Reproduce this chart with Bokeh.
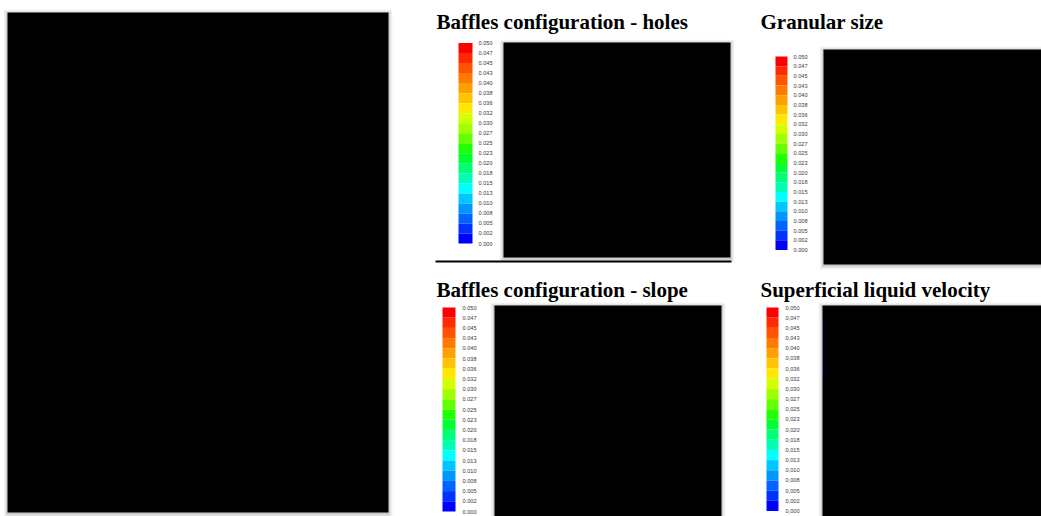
from bokeh.plotting import figure
from bokeh.models import Range1d, ColumnDataSource
from bokeh.core.properties import value
from bokeh.embed import file_html
from bokeh.resources import INLINE

# ---- data ----
panel_titles = ["Baffles configuration - holes", "Granular size",
                "Baffles configuration - slope", "Superficial liquid velocity"]
scale_labels = ["0.050", "0.047", "0.045", "0.043", "0.040", "0.038", "0.036",
                "0.032", "0.030", "0.027", "0.025", "0.023", "0.020", "0.018",
                "0.015", "0.013", "0.010", "0.008", "0.005", "0.002", "0.000"]
scale_labels_comma = [s.replace(".", ",") for s in scale_labels]
band_colors = ["#ff0000", "#ff2a00", "#ff5500", "#ff7a00", "#ffa000", "#ffc400",
               "#ffe800", "#d4ff00", "#a0ff00", "#66ff00", "#22ff00", "#00ff33",
               "#00ff77", "#00ffb4", "#00ffff", "#00c8ff", "#0096ff", "#0064ff",
               "#0032ff", "#0000ff"]

# ---- layout (pixel positions) ----
W, H = 1041, 516
title_pos = [(436, 21), (760, 21), (436, 289), (760, 289)]
bars = [(458, 472, 42.5, 243.0), (775, 787, 56.0, 249.5),
        (442, 455, 307.0, 511.0), (766, 778, 307.0, 510.5)]
label_x = [478, 793, 462, 785]
images = [(7, 388, 12, 512), (503, 730, 42, 257), (823, 1041, 49, 264),
          (494, 721, 305, 530), (822, 1041, 305, 530)]

p = figure(width=W, height=H, x_range=Range1d(0, W), y_range=Range1d(H, 0),
           output_backend="svg", toolbar_location=None, min_border=0,
           background_fill_color="white", border_fill_color="white")
p.axis.visible = False
p.grid.visible = False
p.outline_line_color = None

# shadows behind the images
for k, a in [(4, 0.035), (3, 0.045), (2, 0.06), (1, 0.08)]:
    p.quad(left=[im[0] - k for im in images], right=[im[1] + k for im in images],
           top=[im[2] - k + 1 for im in images], bottom=[im[3] + k + 1 for im in images],
           fill_color="black", fill_alpha=a, line_color=None)
# images (redacted, black)
p.quad(left=[im[0] for im in images], right=[im[1] for im in images],
       top=[im[2] for im in images], bottom=[im[3] for im in images],
       fill_color="black", line_color=None)

# faint blue edge on last image
p.segment(x0=[822], y0=[316], x1=[822], y1=[377], line_color="#5a63c8", line_width=1, line_alpha=0.8)

# separator line under first panel
p.segment(x0=[435], y0=[261], x1=[731], y1=[261], line_color="black", line_width=2)

# color bars and labels
n = len(band_colors)
for i, (l, r, t, b) in enumerate(bars):
    h = (b - t) / n
    src = ColumnDataSource(dict(
        left=[l] * n, right=[r] * n,
        top=[t + j * h for j in range(n)], bottom=[t + (j + 1) * h for j in range(n)],
        color=band_colors))
    p.quad(left="left", right="right", top="top", bottom="bottom",
           fill_color="color", line_color=None, source=src)
    labs = scale_labels_comma if i == 3 else scale_labels
    p.text(x=[label_x[i]] * len(labs), y=[t + j * h for j in range(len(labs))], text=labs,
           text_font=value("Liberation Sans"), text_font_size="5.6px",
           text_color="#3a3a3a", text_baseline="middle", text_align="left")

# titles
p.text(x=[tp[0] for tp in title_pos], y=[tp[1] for tp in title_pos], text=panel_titles,
       text_font=value("Liberation Serif"), text_font_style="bold",
       text_font_size="21px", text_color="black",
       text_baseline="alphabetic", text_align="left")

open("out.html", "w").write(file_html(p, INLINE))
